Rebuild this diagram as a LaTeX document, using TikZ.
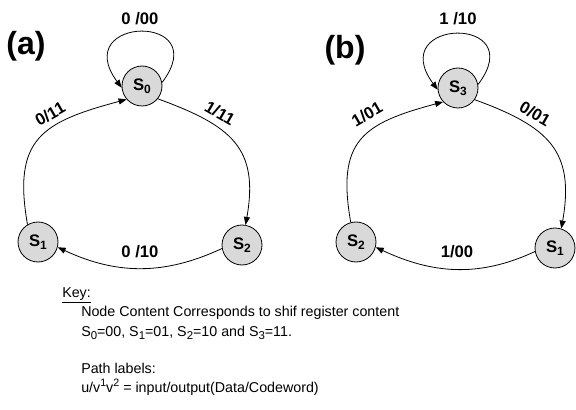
\documentclass[tikz,border=0pt]{standalone}
\usepackage{fontspec}
\usepackage{graphicx}
\setmainfont{Liberation Sans}
\usetikzlibrary{arrows.meta}
\definecolor{nodegray}{RGB}{217,217,217}
\newcommand{\lowsub}[1]{\raisebox{-0.35ex}{\scalebox{0.72}{#1}}}
\newcommand{\keysub}[1]{\raisebox{-0.3ex}{\scalebox{0.8}{#1}}}
\newcommand{\highsup}[1]{\raisebox{0.75ex}{\scalebox{0.75}{#1}}}
\tikzset{
  state/.style={circle, draw=black, line width=0.6pt, fill=nodegray, minimum size=30pt, inner sep=0pt,
    font=\fontsize{12.5}{14}\selectfont\bfseries},
  edge/.style={line width=0.6pt, -{Triangle[length=6pt,width=4.5pt]}},
  lbl/.style={font=\fontsize{12.5}{14}\selectfont\bfseries, inner sep=0pt},
  panel/.style={font=\fontsize{24}{28}\selectfont\bfseries, inner sep=0pt},
  keytext/.style={font=\fontsize{10.7}{13}\selectfont, anchor=west, inner sep=0pt}
}
\begin{document}
\begin{tikzpicture}[x=0.75pt, y=-0.75pt]
\useasboundingbox (0,0) rectangle (576,410);
% panel (a)
\node[panel] (pa) at (26,46) {(a)};
\node[state] (a0) at (142,86) {S\lowsub{0}};
\node[state] (a1) at (38,242) {S\lowsub{1}};
\node[state] (a2) at (242,245) {S\lowsub{2}};
\draw[edge] (a0.10) .. controls +(53,-70) and +(-53,-72) .. (a0.185);
\draw[edge] (a0.-39) to[out=-20, in=80, looseness=1.3] (a2.80);
\draw[edge] (a2.190) to[out=205, in=-25] (a1.-15);
\draw[edge] (a1.121) to[out=100, in=195, looseness=1.4] (a0.221);
\node[lbl] (la0) at (140,19) {0 /00};
\node[lbl, rotate=-30] (la1) at (220,113) {1/11};
\node[lbl] (la2) at (140,252) {0 /10};
\node[lbl, rotate=30] (la3) at (50,114) {0/11};
% panel (b)
\node[panel] (pb) at (345,50) {(b)};
\node[state] (b3) at (458,88) {S\lowsub{3}};
\node[state] (b2) at (356,242) {S\lowsub{2}};
\node[state] (b1) at (555,248) {S\lowsub{1}};
\draw[edge] (b3.10) .. controls +(53,-70) and +(-53,-72) .. (b3.185);
\draw[edge] (b3.-35) to[out=-20, in=80, looseness=1.3] (b1.72);
\draw[edge] (b1.190) to[out=205, in=-25] (b2.-15);
\draw[edge] (b2.105) to[out=100, in=195, looseness=1.4] (b3.223);
\node[lbl] (lb0) at (458,19) {1 /10};
\node[lbl, rotate=-30] (lb1) at (535,114) {0/01};
\node[lbl] (lb2) at (457,252) {1/00};
\node[lbl, rotate=30] (lb3) at (367,114) {1/01};
% key
\node[keytext] (k0) at (62,295) {\underline{Key:}};
\node[keytext] (k1) at (81,313) {Node Content Corresponds to shif register content};
\node[keytext] (k2) at (81,333) {S\keysub{0}=00, S\keysub{1}=01, S\keysub{2}=10 and S\keysub{3}=11.};
\node[keytext] (k3) at (81,368) {Path labels:};
\node[keytext] (k4) at (81,387) {u/v\highsup{1}v\highsup{2} = input/output(Data/Codeword)};
\end{tikzpicture}
\end{document}
